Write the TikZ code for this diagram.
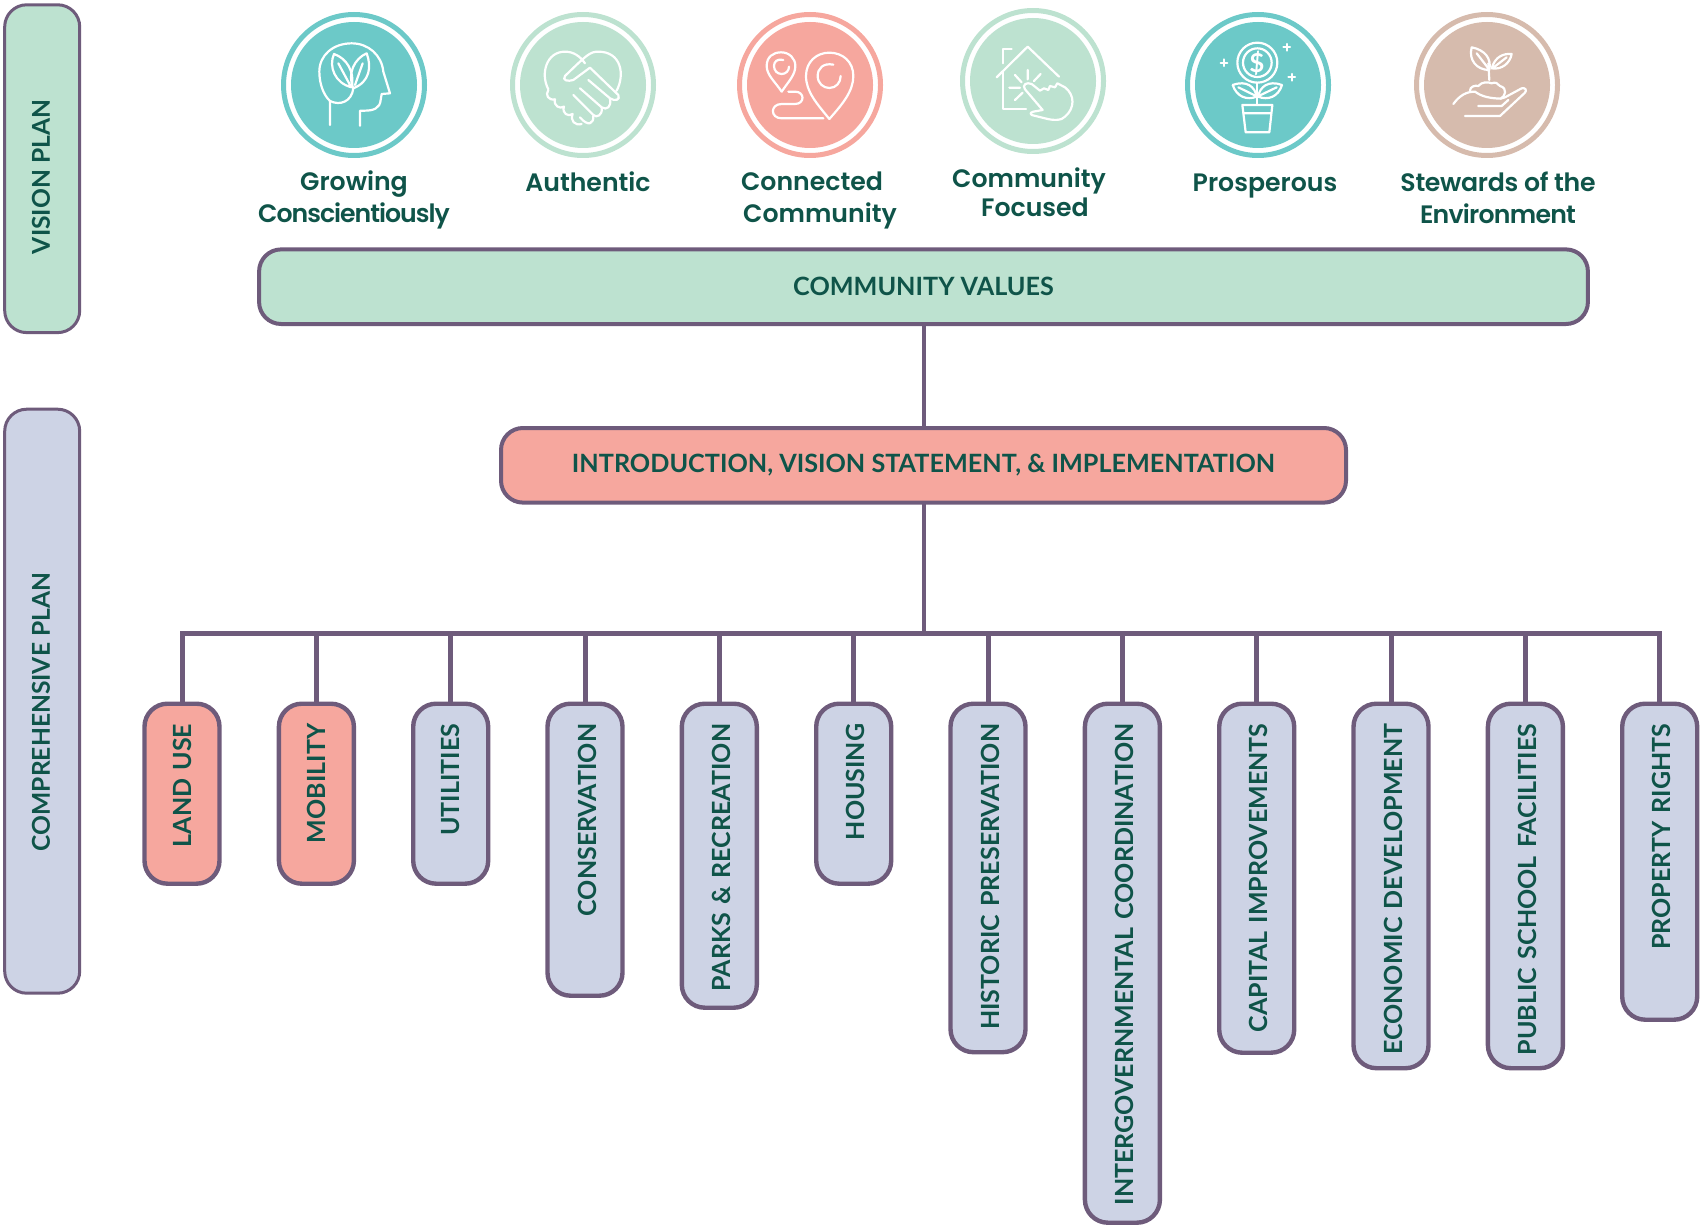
\documentclass[tikz,border=0pt]{standalone}
\usepackage{fontspec}
\setmainfont{Lato}[BoldFont={Lato Bold}]
\newfontfamily\capfont{Poppins SemiBold}
\usepackage{tikz}
\usetikzlibrary{positioning}

\definecolor{mint}{HTML}{BDE2D0}
\definecolor{coral}{HTML}{F6A79E}
\definecolor{lilac}{HTML}{CDD3E5}
\definecolor{teal}{HTML}{6CC9C8}
\definecolor{tan}{HTML}{D6BBAD}
\definecolor{plum}{HTML}{6E5B7B}
\definecolor{ink}{HTML}{0F5449}

\newcommand{\tightcap}[2]{{\addfontfeature{LetterSpace=#1}#2}}

\tikzset{
	link/.style={draw=plum,line width=2.5pt},
	titlebox/.style={draw=plum,line width=2pt,outer sep=0pt,rounded corners=11pt,minimum height=37.3pt,text=ink,font=\bfseries\fontsize{12.6}{15}\selectfont},
	sidebar/.style={draw=plum,line width=1.5pt,outer sep=0pt,rounded corners=11pt,minimum width=37.5pt,anchor=north},
	sidetext/.style={rotate=90,text=ink,font=\bfseries\fontsize{12.3}{14}\selectfont},
	branch/.style={draw=plum,line width=2.2pt,outer sep=0pt,rounded corners=11.5pt,rotate=90,anchor=east,minimum height=37.5pt,inner ysep=0pt,inner xsep=10pt,text width=(#1-40)*0.5pt,text=ink,font=\bfseries\fontsize{12.5}{14}\selectfont},
	ring/.style={circle,draw=#1,fill=white,line width=2.5pt,minimum size=70.5pt,inner sep=0pt},
	disc/.style={circle,fill=#1,minimum size=63pt,inner sep=0pt},
	caption/.style={align=center,text=ink,font=\capfont\fontsize{12.6}{16}\selectfont},
	glyph/.style={x=1pt/6,y=-1pt/6,shift={(#1*0.5pt,0)},white,line width=1.1pt,line cap=round,line join=round}
}

\begin{document}
\begin{tikzpicture}[x=0.5pt,y=-0.5pt]
	\useasboundingbox (0,0) rectangle (1706,1225);

	% side bars
	\node[sidebar,fill=mint,minimum height=163.9pt] (vision) at (42.2,4.8) {};
	\node[sidebar,fill=lilac,minimum height=292pt] (compplan) at (42.2,409.2) {};
	\node[sidetext] at (41,177) {VISION PLAN};
	\node[sidetext] at (41,712) {COMPREHENSIVE PLAN};

	% badges
	\foreach \nm/\xx/\yy/\col in {grow/354/85/teal,auth/583/85/mint,conn/810/85/coral,focus/1033/81/mint,prosp/1258/85/teal,steward/1487/85/tan}{
		\node[ring=\col] (\nm) at (\xx,\yy) {};
		\node[disc=\col] at (\nm.center) {};
	}
	\node[caption] (growtxt) at (354,200) {Growing\\\tightcap{-4}{Conscientiously}};
	\node[caption] (authtxt) at (588,182) {Authentic};
	\node[caption] (conntxt) at (816,200) {Connected\hspace*{4pt}\\\hspace*{4pt}Community};
	\node[caption,font=\capfont\fontsize{12.6}{14.5}\selectfont] (focustxt) at (1032,192) {Community\hspace*{3pt}\\\hspace*{3pt}Focused};
	\node[caption] (prosptxt) at (1265,186) {Prosperous};
	\node[caption] (stewardtxt) at (1498,198) {\tightcap{-1.2}{Stewards of the}\\\tightcap{-3}{Environment}};

	% head with leaves
	\begin{scope}[glyph=240]
		\draw (270,375) -- (270,303) .. controls (250,285) and (238,250) .. (238,215) .. controls (238,165) and (280,130) .. (335,130) .. controls (385,130) and (425,165) .. (430,215) -- (450,280) -- (425,282) -- (422,300) .. controls (420,325) and (400,332) .. (375,332) -- (360,332) -- (360,377);
		\draw (270,303) .. controls (300,318) and (335,305) .. (340,265);
		\draw (335,262) .. controls (285,250) and (265,200) .. (282,162) .. controls (320,175) and (345,215) .. (335,262) (295,190) -- (330,255);
		\draw (340,265) .. controls (390,245) and (395,200) .. (380,160) .. controls (345,175) and (320,220) .. (340,265) (368,190) -- (345,255);
	\end{scope}

	% handshake
	\begin{scope}[glyph=240]
		\draw (925,268) .. controls (900,220) and (920,155) .. (975,155) .. controls (1000,155) and (1020,168) .. (1035,190);
		\draw (1130,272) .. controls (1155,225) and (1145,155) .. (1075,155) .. controls (1050,155) and (1040,165) .. (975,228) .. controls (965,242) and (985,245) .. (1000,240) -- (1050,203) -- (1135,285) .. controls (1142,300) and (1125,305) .. (1110,295) -- (1045,240);
		\draw (1110,297) .. controls (1115,320) and (1100,332) .. (1085,322) -- (1020,265);
		\draw (1085,325) .. controls (1088,345) and (1070,355) .. (1060,345) -- (1000,285);
		\draw (1060,348) .. controls (1062,370) and (1045,382) .. (1020,352);
		\draw (925,270) .. controls (915,285) and (925,302) .. (945,298) .. controls (940,318) and (960,328) .. (972,320) .. controls (965,340) and (985,352) .. (998,342) .. controls (990,362) and (1005,378) .. (1025,372);
	\end{scope}

	% map pins
	\begin{scope}[glyph=720]
		\draw (185,275) .. controls (165,245) and (140,225) .. (140,198) .. controls (140,170) and (160,157) .. (183,157) .. controls (208,157) and (226,175) .. (226,198) .. controls (226,225) and (205,245) .. (185,275);
		\draw (190,180) .. controls (172,175) and (162,185) .. (162,198) .. controls (162,212) and (172,222) .. (185,222) .. controls (198,222) and (207,212) .. (207,200);
		\draw (328,357) .. controls (290,310) and (258,275) .. (258,228) .. controls (258,185) and (290,158) .. (328,158) .. controls (368,158) and (400,185) .. (400,228) .. controls (400,275) and (365,315) .. (328,357);
		\draw (340,194) .. controls (310,188) and (293,205) .. (293,228) .. controls (293,250) and (310,264) .. (328,264) .. controls (348,264) and (362,248) .. (362,228);
		\draw (310,355) -- (185,355) .. controls (150,355) and (150,312) .. (185,312) -- (225,312) .. controls (255,312) and (255,275) .. (225,275) -- (205,275);
	\end{scope}

	% house and hand
	\begin{scope}[glyph=720]
		\draw (830,232) -- (923,140) -- (1017,230);
		\draw (848,190) -- (848,148) -- (875,148);
		\draw (848,215) -- (848,327) -- (918,327);
		\draw (923,210) -- (923,238) (885,225) -- (905,247) (962,222) -- (942,243) (868,263) -- (900,263) (885,300) -- (908,278);
		\draw (935,345) -- (975,355) .. controls (1000,362) and (1025,362) .. (1035,350) .. controls (1065,325) and (1065,285) .. (1035,262) -- (1012,250) -- (1005,262) -- (990,258) -- (985,270) -- (972,265) -- (960,272) -- (935,252) .. controls (920,245) and (905,255) .. (915,268) -- (968,330) -- (940,335) .. controls (930,338) and (930,343) .. (935,345);
	\end{scope}

	% flower pot
	\begin{scope}[glyph=1180]
		\draw (232,188) circle (60) (232,188) circle (43);
		\draw (320,132) -- (320,152) (310,142) -- (330,142) (132,178) -- (132,198) (122,188) -- (142,188) (335,222) -- (335,242) (325,232) -- (345,232);
		\draw (232,248) -- (232,315);
		\draw (158,255) .. controls (200,240) and (225,260) .. (230,290) .. controls (200,302) and (170,290) .. (158,255) (175,262) -- (228,288);
		\draw (306,255) .. controls (265,240) and (240,260) .. (234,290) .. controls (265,302) and (295,290) .. (306,255) (290,262) -- (236,288);
		\draw (187,315) -- (277,315) -- (268,397) -- (197,397) -- cycle (191,340) -- (274,340);
	\end{scope}
	\node[text=white,font=\bfseries\fontsize{13}{14}\selectfont] (dollar) at (1257,63) {\$};

	% hand with seedling
	\begin{scope}[glyph=1180]
		\draw (928,240) -- (925,190);
		\draw (928,210) .. controls (890,210) and (865,180) .. (875,142) .. controls (915,150) and (935,175) .. (928,210) (890,160) -- (925,205);
		\draw (935,205) .. controls (945,170) and (970,160) .. (995,162) .. controls (990,190) and (965,210) .. (935,205) (980,172) -- (940,203);
		\draw (870,272) .. controls (870,260) and (885,255) .. (895,258) .. controls (905,245) and (925,245) .. (935,250) .. controls (945,245) and (955,250) .. (960,258) .. controls (985,265) and (975,290) .. (962,296);
		\draw (820,312) .. controls (840,285) and (860,275) .. (885,275) .. controls (905,290) and (930,295) .. (962,296) -- (975,292) -- (1025,265) .. controls (1035,262) and (1042,270) .. (1035,278) -- (960,348) -- (855,348);
		\draw (895,318) -- (965,318) -- (985,300);
	\end{scope}

	% title boxes
	\node[titlebox,fill=mint,minimum width=664.4pt] (values) at (923.5,286.7) {COMMUNITY VALUES};
	\node[titlebox,fill=coral,minimum width=422.5pt] (intro) at (923.5,465.3) {INTRODUCTION, VISION STATEMENT, \& IMPLEMENTATION};

	% chapter boxes
	\foreach \i/\xx/\hh/\col/\nudge/\txt in {
		1/182/180/coral/0pt/LAND USE,
		2/316.4/180/coral/0pt/MOBILITY,
		3/450.7/180/lilac/0pt/UTILITIES,
		4/585/292/lilac/11.2pt/CONSERVATION,
		5/719.3/304/lilac/11.2pt/PARKS \& RECREATION,
		6/853.7/180/lilac/11.2pt/HOUSING,
		7/988/348.5/lilac/11.2pt/HISTORIC PRESERVATION,
		8/1122.4/519/lilac/11.2pt/INTERGOVERNMENTAL COORDINATION,
		9/1256.7/349/lilac/11.2pt/CAPITAL IMPROVEMENTS,
		10/1391/364.5/lilac/11.2pt/ECONOMIC DEVELOPMENT,
		11/1525.4/364.5/lilac/11.2pt/PUBLIC SCHOOL FACILITIES,
		12/1659.7/316/lilac/11.2pt/PROPERTY RIGHTS}{
		\node[branch=\hh,fill=\col] (ch\i) at (\xx,703.7) {\hbox to \hsize{\hss\rule{0pt}{\nudge}\txt}};
	}

	% connectors
	\coordinate (bus) at (923.5,633);
	\draw[link,line width=2pt] (values) -- (intro);
	\draw[link,line width=2pt] (intro) -- (bus);
	\draw[link,line cap=rect] (bus -| ch1.east) -- (bus -| ch12.east);
	\foreach \i in {1,...,12}{
		\draw[link] (bus -| ch\i.east) -- (ch\i.east);
	}
\end{tikzpicture}
\end{document}
